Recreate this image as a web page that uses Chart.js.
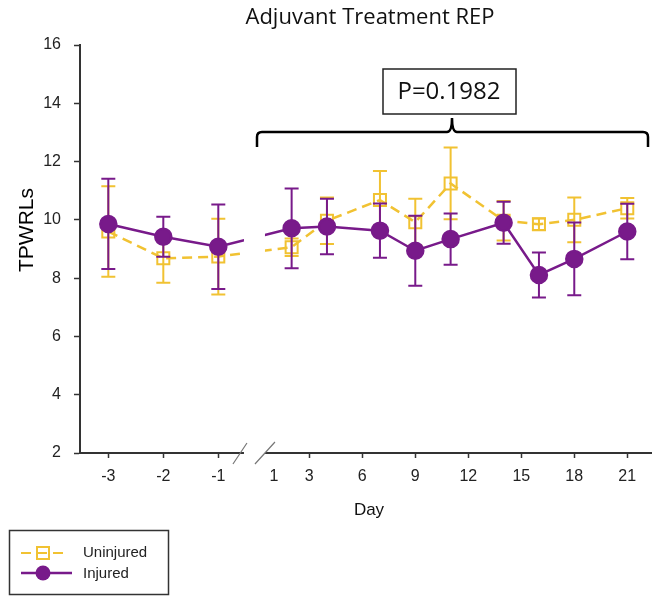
<!DOCTYPE html>
<html>
<head>
<meta charset="utf-8">
<script src="https://cdn.jsdelivr.net/npm/chart.js@4.4.0/dist/chart.umd.min.js"></script>
<style>
  html, body { margin: 0; padding: 0; background: #fff; }
</style>
</head>
<body>
<canvas id="chart" width="652" height="596"></canvas>
<script>
// -----------------------------
// Data
// -----------------------------
const days = [-3, -2, -1, 2, 4, 7, 9, 11, 14, 16, 18, 21];
const uninjured = [9.6, 8.68, 8.74, 9.06, 9.97, 10.68, 9.92, 11.25, 9.97, 9.85, 10.0, 10.4];
const uninjuredErr = [1.55, 0.84, 1.3, 0.3, 0.8, 1.0, 0.8, 1.23, 0.68, 0.2, 0.77, 0.35];
const injured = [9.86, 9.42, 9.08, 9.71, 9.77, 9.63, 8.94, 9.34, 9.9, 8.11, 8.66, 9.6];
const injuredErr = [1.55, 0.69, 1.45, 1.37, 0.95, 0.93, 1.2, 0.88, 0.72, 0.77, 1.25, 0.95];
const tickDays = [-3, -2, -1, 1, 3, 6, 9, 12, 15, 18, 21];
const yTicks = [2, 4, 6, 8, 10, 12, 14, 16];

const YELLOW = "#f1c232";
const PURPLE = "#781a8a";
const AXIS = "#333";

// broken x axis: pre-injury days are drawn wider than post-injury days
function axisPos(d) {
  return d < 0 ? 0.962 + d * 3.113 : d;
}

// -----------------------------
// Error bars, drawn under each dataset
// -----------------------------
const errorBars = {
  id: "errorBars",
  beforeDatasetDraw(chart, args) {
    const ds = chart.data.datasets[args.index];
    const { ctx, scales } = chart;
    ctx.save();
    ctx.strokeStyle = ds.borderColor;
    ctx.lineWidth = 2;
    ds.data.forEach((p, i) => {
      const x = scales.x.getPixelForValue(p.x);
      const top = scales.y.getPixelForValue(p.y + ds.err[i]);
      const bot = scales.y.getPixelForValue(p.y - ds.err[i]);
      ctx.beginPath();
      ctx.moveTo(x, top); ctx.lineTo(x, bot);
      ctx.moveTo(x - 7, top); ctx.lineTo(x + 7, top);
      ctx.moveTo(x - 7, bot); ctx.lineTo(x + 7, bot);
      ctx.stroke();
    });
    ctx.restore();
  },
};

// -----------------------------
// Titles, axis break, bracket, legend
// -----------------------------
const decorations = {
  id: "decorations",
  afterDraw(chart) {
    const { ctx, chartArea, scales } = chart;
    const ref = scales.x.getPixelForValue(axisPos(1));
    const axisY = chartArea.bottom;

    // axis break: white gap + two slashes
    ctx.save();
    ctx.fillStyle = "#fff";
    ctx.fillRect(ref - 30, chartArea.top, 21, axisY - chartArea.top + 2);
    ctx.strokeStyle = "#777";
    ctx.lineWidth = 1.2;
    ctx.beginPath();
    ctx.moveTo(ref - 41, axisY + 11); ctx.lineTo(ref - 27, axisY - 10);
    ctx.moveTo(ref - 19, axisY + 11); ctx.lineTo(ref + 1, axisY - 11);
    ctx.stroke();

    // bracket
    ctx.strokeStyle = "#000";
    ctx.lineWidth = 2.5;
    const bl = 257, br = 648, bm = 452, by = 132;
    ctx.beginPath();
    ctx.moveTo(bl, 147);
    ctx.lineTo(bl, by + 5);
    ctx.quadraticCurveTo(bl, by, bl + 5, by);
    ctx.lineTo(bm - 5, by);
    ctx.quadraticCurveTo(bm, by, bm, by - 14);
    ctx.quadraticCurveTo(bm, by, bm + 5, by);
    ctx.lineTo(br - 5, by);
    ctx.quadraticCurveTo(br, by, br, by + 5);
    ctx.lineTo(br, 147);
    ctx.stroke();

    // p-value box
    ctx.fillStyle = "#fff";
    ctx.fillRect(383, 69, 133, 45);
    ctx.strokeStyle = "#222";
    ctx.lineWidth = 1.5;
    ctx.strokeRect(383, 69, 133, 45);
    ctx.fillStyle = "#111";
    ctx.font = '24px "Open Sans"';
    ctx.textAlign = "center";
    ctx.textBaseline = "middle";
    ctx.fillText("P=0.1982", 449, 92);

    // chart title
    ctx.font = '22px "Open Sans"';
    ctx.fillStyle = "#111";
    ctx.fillText("Adjuvant Treatment REP", 370, 18);

    // axis titles
    ctx.font = '17px "Liberation Sans", Arial';
    ctx.fillText("Day", 369, 510);
    ctx.save();
    ctx.translate(27, 230);
    ctx.rotate(-Math.PI / 2);
    ctx.font = '21px "Liberation Sans", Arial';
    ctx.fillStyle = "#000";
    ctx.fillText("TPWRLs", 0, 0);
    ctx.restore();

    // legend
    ctx.strokeStyle = "#333";
    ctx.lineWidth = 1.5;
    ctx.strokeRect(9.5, 530.5, 159, 64);
    ctx.strokeStyle = YELLOW;
    ctx.lineWidth = 2;
    ctx.setLineDash([10, 6]);
    ctx.beginPath();
    ctx.moveTo(21, 553); ctx.lineTo(67, 553);
    ctx.stroke();
    ctx.setLineDash([]);
    ctx.strokeRect(37, 547, 12, 12);
    ctx.strokeStyle = PURPLE;
    ctx.lineWidth = 2.5;
    ctx.beginPath();
    ctx.moveTo(21, 573); ctx.lineTo(72, 573);
    ctx.stroke();
    ctx.fillStyle = PURPLE;
    ctx.beginPath();
    ctx.arc(43, 573, 7.5, 0, Math.PI * 2);
    ctx.fill();
    ctx.fillStyle = "#222";
    ctx.font = '15px "Liberation Sans", Arial';
    ctx.textAlign = "left";
    ctx.fillText("Uninjured", 83, 553);
    ctx.fillText("Injured", 83, 574);
    ctx.restore();
  },
};

// -----------------------------
// Chart
// -----------------------------
const ctx = document.getElementById("chart").getContext("2d");
new Chart(ctx, {
  type: "line",
  data: {
    datasets: [
      {
        label: "Uninjured",
        data: days.map((d, i) => ({ x: axisPos(d), y: uninjured[i] })),
        err: uninjuredErr,
        borderColor: YELLOW,
        backgroundColor: "rgba(255,255,255,0)",
        borderWidth: 2.5,
        borderDash: [10, 6],
        pointStyle: "rect",
        pointRadius: 8.5,
        pointBorderWidth: 2,
        pointBorderColor: YELLOW,
        pointBackgroundColor: "rgba(255,255,255,0)",
        tension: 0,
        order: 1,
      },
      {
        label: "Injured",
        data: days.map((d, i) => ({ x: axisPos(d), y: injured[i] })),
        err: injuredErr,
        borderColor: PURPLE,
        backgroundColor: PURPLE,
        borderWidth: 2.5,
        pointStyle: "circle",
        pointRadius: 8,
        pointBackgroundColor: PURPLE,
        pointBorderColor: PURPLE,
        tension: 0,
        order: 0,
      },
    ],
  },
  options: {
    responsive: false,
    animation: false,
    devicePixelRatio: 1,
    layout: {
      autoPadding: false,
      padding: { top: 45, left: 0, right: 0, bottom: 0 },
    },
    plugins: {
      legend: { display: false },
      tooltip: { enabled: false },
    },
    scales: {
      x: {
        type: "linear",
        min: -9.98,
        max: 22.4,
        afterFit: (s) => {
          s.height = 143;
          s.paddingLeft = 0;
          s.paddingRight = 0;
        },
        afterBuildTicks: (s) => {
          s.ticks = tickDays.map((d) => ({ value: axisPos(d) }));
        },
        ticks: {
          autoSkip: false,
          maxRotation: 0,
          padding: 9,
          color: "#222",
          font: { family: '"Liberation Sans", Arial', size: 16 },
          callback: (v, i) => tickDays[i],
        },
        grid: {
          drawOnChartArea: false,
          drawTicks: true,
          tickLength: 5,
          tickWidth: 1.5,
          tickColor: (c) => (c.index === 3 ? "rgba(0,0,0,0)" : AXIS),
        },
        border: { color: AXIS, width: 2 },
      },
      y: {
        min: 2,
        max: 16,
        afterFit: (s) => {
          s.width = 80;
          s.paddingTop = 0;
          s.paddingBottom = 0;
        },
        afterBuildTicks: (s) => {
          s.ticks = yTicks.map((v) => ({ value: v }));
        },
        ticks: {
          padding: 13,
          color: "#222",
          font: { family: '"Liberation Sans", Arial', size: 16 },
        },
        grid: {
          drawOnChartArea: false,
          drawTicks: true,
          tickLength: 6,
          tickWidth: 1.5,
          tickColor: AXIS,
        },
        border: { color: AXIS, width: 2 },
      },
    },
  },
  plugins: [errorBars, decorations],
});
</script>
</body>
</html>
